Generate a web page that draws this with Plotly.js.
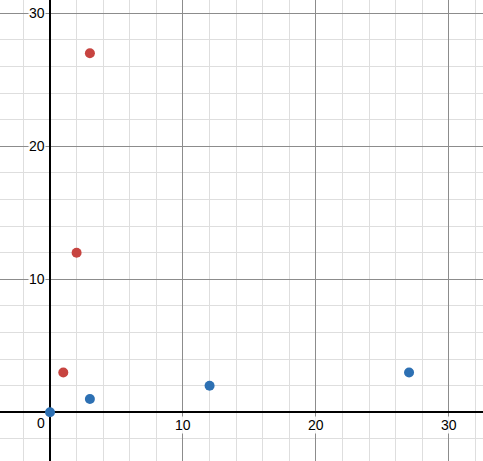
<!DOCTYPE html>
<html>
<head>
<meta charset="utf-8">
<script src="https://cdn.plot.ly/plotly-3.0.1.min.js"></script>
<style>html,body{margin:0;padding:0;background:#fff;}#chart{width:483px;height:461px;}</style>
</head>
<body>
<div id="chart"></div>
<script>
const redX = [1, 2, 3];
const redY = [3, 12, 27];
const blueX = [0, 3, 12, 27];
const blueY = [0, 1, 2, 3];
const xTickVals = [10, 20, 30];
const yTickVals = [10, 20, 30];
const originLabel = '0';

const annotations = [];
xTickVals.forEach(v => annotations.push({
  x: v, y: 0, xref: 'x', yref: 'y', text: String(v), showarrow: false,
  yanchor: 'top', xanchor: 'center', yshift: -4, bgcolor: 'rgba(255,255,255,0.9)',
  font: {family: 'Arial, Liberation Sans, sans-serif', size: 14, color: '#000'}, borderpad: 0
}));
yTickVals.forEach(v => annotations.push({
  x: 0, y: v, xref: 'x', yref: 'y', text: String(v), showarrow: false,
  xanchor: 'right', yanchor: 'middle', xshift: -4, bgcolor: 'rgba(255,255,255,0.9)',
  font: {family: 'Arial, Liberation Sans, sans-serif', size: 14, color: '#000'}, borderpad: 0
}));
annotations.push({
  x: 0, y: 0, xref: 'x', yref: 'y', text: originLabel, showarrow: false,
  xanchor: 'right', yanchor: 'top', xshift: -3, yshift: -1,
  font: {family: 'Arial, Liberation Sans, sans-serif', size: 14, color: '#000'}
});

const data = [
  {x: redX, y: redY, type: 'scatter', mode: 'markers', marker: {color: '#c74440', size: 10}, hoverinfo: 'skip'},
  {x: blueX, y: blueY, type: 'scatter', mode: 'markers', marker: {color: '#2d70b3', size: 10}, hoverinfo: 'skip'}
];

const axisCommon = {
  showticklabels: false, ticks: '', showline: false,
  dtick: 10, tick0: 0, showgrid: true, gridcolor: '#8c8c8c', gridwidth: 1,
  minor: {dtick: 2, tick0: 0, showgrid: true, gridcolor: '#dedede', gridwidth: 1},
  zeroline: true, zerolinecolor: '#000', zerolinewidth: 2, fixedrange: true
};

const layout = {
  width: 483, height: 461,
  margin: {l: 0, r: 0, t: 0, b: 0, pad: 0},
  paper_bgcolor: '#fff', plot_bgcolor: '#fff',
  showlegend: false,
  xaxis: Object.assign({}, axisCommon, {range: [-3.76, 32.56]}),
  yaxis: Object.assign({}, axisCommon, {range: [-3.66, 31.0]}),
  annotations: annotations
};

Plotly.newPlot('chart', data, layout, {displayModeBar: false, staticPlot: true});
</script>
</body>
</html>
